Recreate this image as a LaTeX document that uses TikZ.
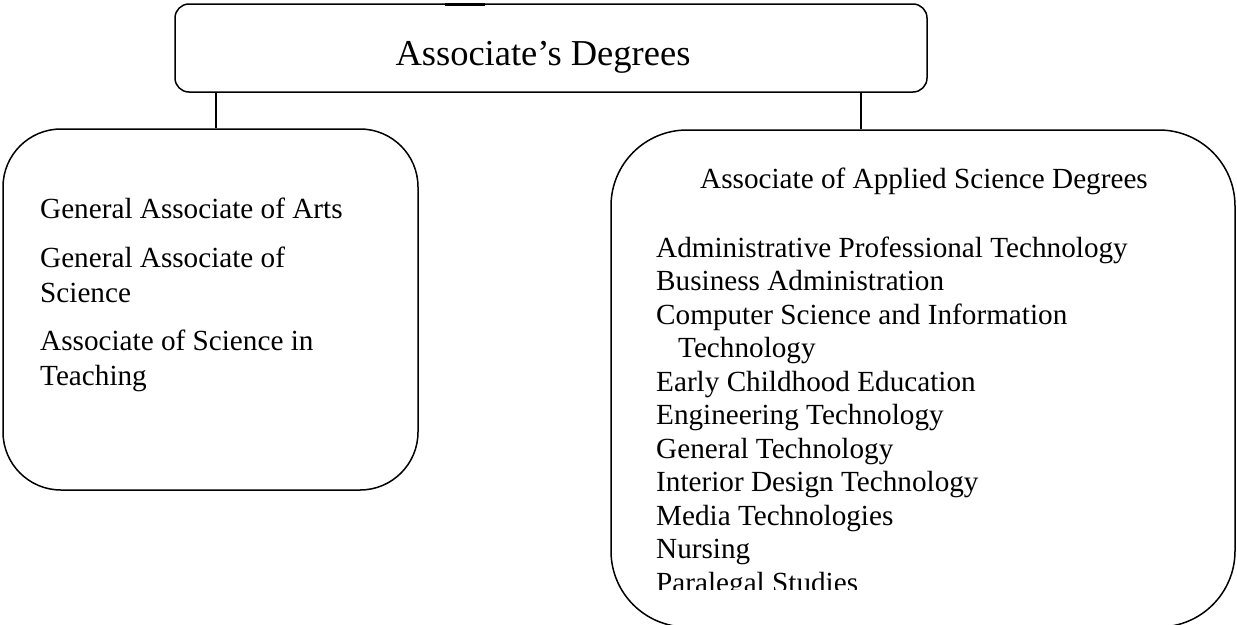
\documentclass[tikz,border=0pt]{standalone}
\usepackage{fontspec}
\setmainfont{Liberation Serif}
\tikzset{
  box/.style={draw=black, line width=1.5pt, shape=rectangle, inner sep=0pt},
  conn/.style={draw=black, line width=1.5pt},
  body/.style={anchor=base west, inner sep=0pt, font=\fontsize{29.2}{34}\selectfont},
  titletext/.style={anchor=base, inner sep=0pt, font=\fontsize{36.5}{42}\selectfont},
  headtext/.style={anchor=base, inner sep=0pt, font=\fontsize{29.2}{34}\selectfont}
}
\begin{document}
\begin{tikzpicture}[x=1pt,y=-1pt]
\useasboundingbox (0,0) rectangle (1237,624);
\begin{scope}
\clip (0,0) rectangle (1237,624);
% boxes
\node[box, rounded corners=14pt, minimum width=752pt, minimum height=88pt] (top) at (551,48) {};
\node[box, rounded corners=58pt, minimum width=415pt, minimum height=361pt] (left) at (210.5,309.5) {};
\node[box, rounded corners=76pt, minimum width=624pt, minimum height=497pt] (right) at (923,378.5) {};
\draw[line width=3pt] (445,4.5) -- (485,4.5);
% connectors
\coordinate (lc) at (216,0);
\coordinate (rc) at (861,0);
\draw[conn] (top.south -| lc) -- (lc |- left.north);
\draw[conn] (top.south -| rc) -- (rc |- right.north);
% title
\node[titletext] (t) at (543,65) {Associate’s Degrees};
% left box
\node[body] (l1) at (40,218) {General Associate of Arts};
\node[body] (l2) at (40,267) {General Associate of};
\node[body] (l3) at (40,302) {Science};
\node[body] (l4) at (40,350) {Associate of Science in};
\node[body] (l5) at (40,385) {Teaching};
% right box
\node[headtext] (h) at (924,188) {Associate of Applied Science Degrees};
\begin{scope}
\clip (600,120) rectangle (1237,589);
\node[body] (r0) at (656,257) {Administrative Professional Technology};
\node[body] (r1) at (656,290.5) {Business Administration};
\node[body] (r2) at (656,324) {Computer Science and Information};
\node[body] (r3) at (678,357.5) {Technology};
\node[body] (r4) at (656,391) {Early Childhood Education};
\node[body] (r5) at (656,424.5) {Engineering Technology};
\node[body] (r6) at (656,458) {General Technology};
\node[body] (r7) at (656,491.5) {Interior Design Technology};
\node[body] (r8) at (656,525) {Media Technologies};
\node[body] (r9) at (656,558.5) {Nursing};
\node[body] (r10) at (656,592) {Paralegal Studies};
\end{scope}
\end{scope}
\end{tikzpicture}
\end{document}
